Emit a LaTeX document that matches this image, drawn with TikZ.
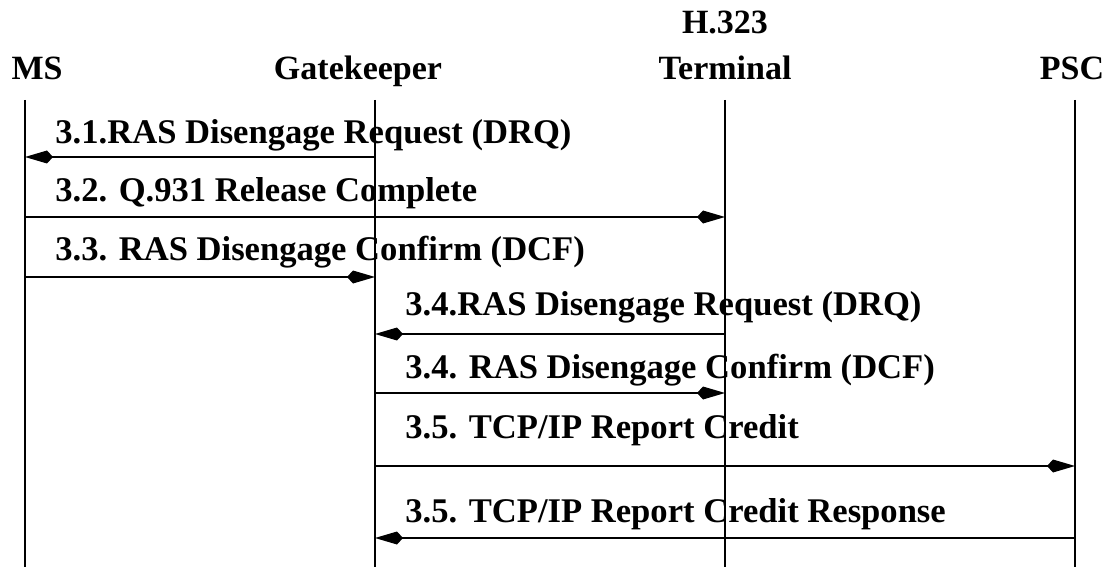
\documentclass[tikz,border=0pt]{standalone}
\usepackage{fontspec}
\setmainfont{Liberation Serif}
\usetikzlibrary{arrows.meta}

\tikzset{
  head/.style={font=\bfseries\fontsize{17}{20}\selectfont, inner sep=0pt, anchor=base},
  lbl/.style={font=\bfseries\fontsize{17.3}{20}\selectfont, inner sep=0pt, anchor=base west},
  life/.style={line width=1pt},
  msg/.style={line width=1pt, -{Kite[length=14pt,width=6.5pt,inset=3pt]}},
}

\begin{document}
\begin{tikzpicture}[x=0.5pt, y=-0.5pt]
		\useasboundingbox (0,0) rectangle (1120,567);
		% entities
		\node [head] (ms) at (37,80) {MS};
		\node [head] (gk) at (358,80) {Gatekeeper};
		\node [head] (h323) at (725,34) {H.323};
		\node [head] (term) at (725,80) {Terminal};
		\node [head] (psc) at (1072,80) {PSC};
		% lifelines
		\coordinate (msT) at (25,100);   \coordinate (msB) at (25,567);
		\coordinate (gkT) at (375,100);  \coordinate (gkB) at (375,567);
		\coordinate (termT) at (725,100); \coordinate (termB) at (725,567);
		\coordinate (pscT) at (1075,100); \coordinate (pscB) at (1075,567);
		\draw [life] (msT) -- (msB);
		\draw [life] (gkT) -- (gkB);
		\draw [life] (termT) -- (termB);
		\draw [life] (pscT) -- (pscB);
		% messages
		\node [lbl] (m1) at (55,144) {3.1.RAS Disengage Request (DRQ)};
		\coordinate (y1) at (0,157);
		\draw [msg] (gkT |- y1) -- (msT |- y1);
		\node [lbl] (m2) at (55,201) {3.2. Q.931 Release Complete};
		\coordinate (y2) at (0,217);
		\draw [msg] (msT |- y2) -- (termT |- y2);
		\node [lbl] (m3) at (55,260) {3.3. RAS Disengage Confirm (DCF)};
		\coordinate (y3) at (0,277);
		\draw [msg] (msT |- y3) -- (gkT |- y3);
		\node [lbl] (m4) at (405,315) {3.4.RAS Disengage Request (DRQ)};
		\coordinate (y4) at (0,334);
		\draw [msg] (termT |- y4) -- (gkT |- y4);
		\node [lbl] (m5) at (405,378) {3.4. RAS Disengage Confirm (DCF)};
		\coordinate (y5) at (0,393);
		\draw [msg] (gkT |- y5) -- (termT |- y5);
		\node [lbl] (m6) at (405,438) {3.5. TCP/IP Report Credit};
		\coordinate (y6) at (0,466);
		\draw [msg] (gkT |- y6) -- (pscT |- y6);
		\node [lbl] (m7) at (405,522) {3.5. TCP/IP Report Credit Response};
		\coordinate (y7) at (0,538);
		\draw [msg] (pscT |- y7) -- (gkT |- y7);
\end{tikzpicture}
\end{document}
